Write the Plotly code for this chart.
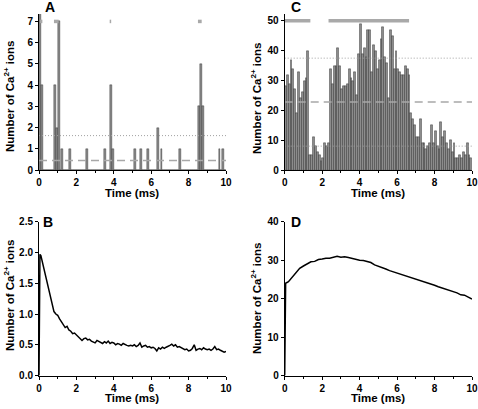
import plotly.graph_objects as go

# ---------------- data ----------------
bin_width = 0.1
# Panel A: Ca2+ ion counts per 0.1 ms bin (single channel)
A_bins = [round(i * 0.1, 1) for i in range(100)]
A_spikes = {0.0: 8, 0.1: 4, 0.8: 4, 0.9: 2, 1.0: 7, 1.2: 1, 1.6: 1, 2.5: 1, 3.5: 1,
            3.8: 4, 3.9: 1, 5.1: 1, 5.4: 1, 5.8: 1, 6.3: 2, 6.5: 1, 7.5: 1,
            8.5: 3, 8.6: 5, 8.7: 3, 9.6: 1, 9.8: 1}
A_counts = [A_spikes.get(b, 0) for b in A_bins]
A_mean = 0.45
A_sd_upper = 1.62
A_open = [(0.05, 0.18), (0.8, 1.05), (3.78, 3.86), (8.5, 8.7)]
A_open_level = 7

# Panel C: Ca2+ ion counts per 0.1 ms bin (cluster)
C_bins = [round(i * 0.1, 1) for i in range(100)]
C_counts = [28, 32, 29, 37, 34, 27, 19, 33, 24, 26, 30, 31, 40,
            5, 5, 11, 8, 6, 5, 3, 4, 9, 8, 9,
            34, 29, 35, 35, 41, 35, 27, 28, 28, 29, 34, 31, 30, 33, 25,
            39, 49, 39, 41, 38, 47, 47, 33, 42, 40, 34, 37, 44, 48, 38, 36, 24,
            47, 45, 34, 40, 34, 33, 32, 32, 35, 34, 32,
            19, 17, 15, 11, 11, 17, 9, 9, 7, 8, 9, 15, 9, 13, 8, 7, 16, 11, 13, 9,
            7, 10, 6, 9, 4, 4, 5, 4, 6, 5, 9, 5, 4]
C_mean = 22.8
C_sd_upper = 37.5
C_sd_lower = 8.0
C_open = [(0.0, 1.37), (2.34, 6.64)]
C_open_level = 50

# Panel B: average over many simulations (single channel)
B_time = [0.0, 0.05] + [round(i * 0.1, 1) for i in range(1, 101)]
B_vals = [0.0, 1.97,
          1.95, 1.82, 1.68, 1.55, 1.40, 1.27, 1.18, 1.04, 1.00, 0.98,
          0.92, 0.88, 0.84, 0.78, 0.80, 0.74, 0.72, 0.68, 0.69, 0.66,
          0.64, 0.60, 0.57, 0.60, 0.61, 0.58, 0.59, 0.56, 0.55, 0.53,
          0.57, 0.55, 0.54, 0.52, 0.55, 0.53, 0.56, 0.52, 0.54, 0.53,
          0.50, 0.52, 0.51, 0.49, 0.52, 0.50, 0.49, 0.48, 0.49, 0.48,
          0.50, 0.47, 0.49, 0.53, 0.46, 0.48, 0.49, 0.46, 0.47, 0.45,
          0.46, 0.44, 0.40, 0.45, 0.43, 0.46, 0.44, 0.46, 0.47, 0.49,
          0.51, 0.48, 0.50, 0.46, 0.47, 0.45, 0.44, 0.42, 0.43, 0.40,
          0.41, 0.44, 0.50, 0.41, 0.43, 0.44, 0.42, 0.45, 0.43, 0.42,
          0.43, 0.41, 0.43, 0.47, 0.42, 0.43, 0.41, 0.40, 0.38, 0.39]

# Panel D: average over many simulations (cluster)
D_time = [0.0, 0.05] + [round(i * 0.2, 1) for i in range(1, 51)]
D_vals = [0.0, 24.0,
          24.4, 25.6, 26.8, 27.9, 28.5, 29.0, 29.6, 29.7, 30.2, 30.3,
          30.5, 30.5, 30.8, 31.0, 30.8, 30.9, 30.7, 30.4, 30.2, 30.0,
          29.9, 29.6, 29.4, 28.8, 28.5, 28.1, 27.7, 27.3, 27.0, 26.7,
          26.4, 26.0, 25.8, 25.4, 25.1, 24.9, 24.6, 24.3, 24.0, 23.5,
          23.1, 22.8, 22.6, 22.2, 21.9, 21.5, 21.0, 20.9, 20.4, 19.9]

x_ticks = [0, 2, 4, 6, 8, 10]
A_yticks = [0, 1, 2, 3, 4, 5, 6, 7]
B_yticks = [0.0, 0.5, 1.0, 1.5, 2.0, 2.5]
C_yticks = [0, 10, 20, 30, 40, 50]
D_yticks = [0, 10, 20, 30, 40]
x_title = "Time (ms)"
y_title = "Number of Ca<sup>2+</sup> ions"
panel_labels = ["A", "B", "C", "D"]

# ---------------- figure ----------------
W, H = 478, 409
FONT = "Liberation Sans"
fig = go.Figure()

def segs(pairs, level):
    xs, ys = [], []
    for a, b in pairs:
        xs += [a, b, None]
        ys += [level, level, None]
    return xs, ys

def add_bars(bins, counts, ax, mean, sd_up, sd_low, opens, level):
    xa = "x" if ax == 1 else f"x{ax}"
    ya = "y" if ax == 1 else f"y{ax}"
    fig.add_trace(go.Bar(x=bins, y=counts, width=bin_width, offset=0,
                         marker=dict(color="#8c8c8c", line=dict(color="#222", width=0.4)),
                         xaxis=xa, yaxis=ya, showlegend=False))
    fig.add_trace(go.Scatter(x=[0, 10], y=[mean, mean], mode="lines",
                             line=dict(color="#a8a8a8", width=1.6, dash="8px,5px"),
                             xaxis=xa, yaxis=ya, showlegend=False))
    for v in (sd_up, sd_low):
        if v is None:
            continue
        fig.add_trace(go.Scatter(x=[0, 10], y=[v, v], mode="lines",
                                 line=dict(color="#a0a0a0", width=1, dash="1px,2px"),
                                 xaxis=xa, yaxis=ya, showlegend=False))
    xs, ys = segs(opens, level)
    fig.add_trace(go.Scatter(x=xs, y=ys, mode="lines",
                             line=dict(color="#a9a9a9", width=3.5),
                             xaxis=xa, yaxis=ya, showlegend=False, cliponaxis=False))

add_bars(A_bins, A_counts, 1, A_mean, A_sd_upper, None, A_open, A_open_level)
add_bars(C_bins, C_counts, 3, C_mean, C_sd_upper, C_sd_lower, C_open, C_open_level)

fig.add_trace(go.Scatter(x=B_time, y=B_vals, mode="lines",
                         line=dict(color="black", width=1.5),
                         xaxis="x2", yaxis="y2", showlegend=False))
fig.add_trace(go.Scatter(x=D_time, y=D_vals, mode="lines",
                         line=dict(color="black", width=1.5),
                         xaxis="x4", yaxis="y4", showlegend=False))

tickfont = dict(family=FONT, size=10, color="black", weight="bold")

def xaxis(domain, anchor):
    return dict(domain=domain, anchor=anchor, range=[0, 10], tickvals=x_ticks,
                showline=True, linecolor="black", linewidth=1, showgrid=False,
                zeroline=False, ticks="outside", ticklen=3, tickwidth=1,
                tickcolor="black", tickfont=tickfont, automargin=False,
                ticklabeloverflow="allow",
                minor=dict(ticks="outside", ticklen=2, dtick=1, tickcolor="black"))

def yaxis(domain, anchor, rng, ticks, fmt=None):
    d = dict(domain=domain, anchor=anchor, range=rng, tickvals=ticks,
             showline=True, linecolor="black", linewidth=1, showgrid=False,
             zeroline=False, ticks="outside", ticklen=3, tickwidth=1,
             tickcolor="black", tickfont=tickfont, automargin=False,
             ticklabeloverflow="allow")
    if fmt:
        d["tickformat"] = fmt
    return d

xl = [39 / W, 226 / W]
xr = [284.7 / W, 472 / W]
yt = [1 - 170 / H, 1 - 14 / H]
yb = [1 - 375.5 / H, 1 - 221.8 / H]

fig.update_layout(
    width=W, height=H, autosize=False,
    margin=dict(l=0, r=0, t=0, b=0, autoexpand=False),
    paper_bgcolor="white", plot_bgcolor="white",
    bargap=0,
    xaxis=xaxis(xl, "y"), yaxis=yaxis(yt, "x", [0, 7.35], A_yticks),
    xaxis2=xaxis(xl, "y2"), yaxis2=yaxis(yb, "x2", [0, 2.5], B_yticks, ".1f"),
    xaxis3=xaxis(xr, "y3"), yaxis3=yaxis(yt, "x3", [0, 52.3], C_yticks),
    xaxis4=xaxis(xr, "y4"), yaxis4=yaxis(yb, "x4", [0, 40], D_yticks),
)

def pann(text, px, py, size, angle=0):
    fig.add_annotation(text=text, x=px / W, y=1 - py / H, xref="paper", yref="paper",
                       showarrow=False, xanchor="center", yanchor="middle",
                       textangle=angle,
                       font=dict(family=FONT, size=size, color="black", weight="bold"))

label_pos = [(50, 7.5), (48, 222), (296, 7.5), (296, 222)]
for lab, (px, py) in zip(panel_labels, label_pos):
    pann(lab, px, py, 14)

# axis titles
for px, py in [(132, 193), (132, 398), (378, 193), (378, 398)]:
    pann(x_title, px, py, 11.5)
for px, py in [(9, 97), (9, 296), (256, 98), (256, 298)]:
    pann(y_title, px, py, 11.5, angle=-90)

fig.write_html("out.html", config={"displayModeBar": False},
               post_script="document.body.style.margin='0';document.body.style.overflow='hidden';")
